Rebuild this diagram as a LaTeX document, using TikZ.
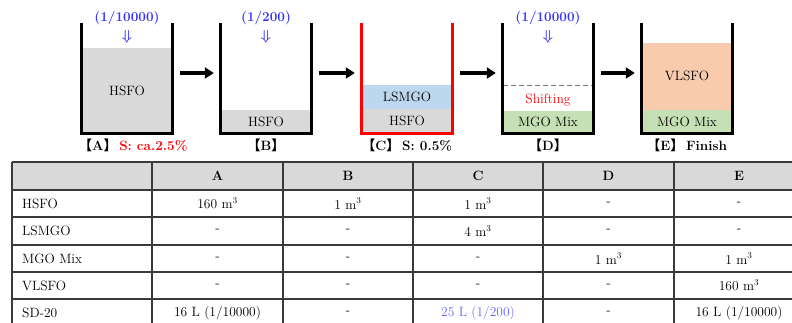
\documentclass[tikz,border=0pt]{standalone}
\usepackage{fontspec}
\newfontfamily\cjk{Noto Sans CJK JP}
\usepackage{xcolor}
\usepackage{tikz}
\usetikzlibrary{arrows.meta, positioning}
\definecolor{hsfogray}{HTML}{D9D9D9}
\definecolor{lsmgoblue}{HTML}{BDD7EE}
\definecolor{mgogreen}{HTML}{C5E0B4}
\definecolor{vlsfopeach}{HTML}{F8CBAD}
\definecolor{dosingblue}{HTML}{3333FF}
\definecolor{gridgray}{HTML}{3A3A3A}
\definecolor{headgray}{HTML}{D9D9D9}
\newcommand{\brL}{{\cjk 【}}
\newcommand{\brR}{{\cjk 】}}

\begin{document}
\begin{tikzpicture}[
  x=1pt, y=-1pt,
  node distance=4pt,
  every node/.style={font=\fontsize{13.5}{15}\selectfont, inner sep=0pt},
  tank/.style={minimum width=90pt, minimum height=110pt},
  wall/.style={line width=3pt, black},
  redwall/.style={wall, red},
  layer/.style={anchor=south, minimum width=90pt},
  dose/.style={font=\fontsize{13.5}{15}\selectfont\bfseries\mathversion{bold}, text=dosingblue},
  stage/.style={font=\fontsize{13.5}{15}\selectfont\bfseries},
  flow/.style={-{Triangle[length=9pt, width=11pt]}, line width=3.5pt, black,
               shorten <=8pt, shorten >=7pt},
  grid/.style={gridgray, line width=1.4pt},
  cell/.style={anchor=center}
]
\useasboundingbox (0,0) rectangle (792,322);

% tanks
\node[tank] (tA) at (127,78) {};
\node[tank] (tB) at (266,78) {};
\node[tank] (tC) at (407,78) {};
\node[tank] (tD) at (548,78) {};
\node[tank] (tE) at (687,78) {};

% contents
\node[layer, fill=hsfogray, minimum height=85pt] (hA) at (tA.south) {HSFO};
\node[layer, fill=hsfogray, minimum height=23pt] (hB) at (tB.south) {HSFO};
\node[layer, fill=hsfogray, minimum height=24pt] (hC) at (tC.south) {HSFO};
\node[layer, fill=lsmgoblue, minimum height=24pt, above=0pt of hC] (lC) {LSMGO};
\node[layer, fill=mgogreen, minimum height=22pt] (mD) at (tD.south) {MGO Mix};
\node[text=red] (sD) at (548,100) {Shifting};
\node[layer, fill=mgogreen, minimum height=23pt] (mE) at (tE.south) {MGO Mix};
\node[layer, fill=vlsfopeach, minimum height=67pt, above=0pt of mE] (vE) {VLSFO};
\draw[gray, line width=1pt, dash pattern=on 5pt off 3pt] ([yshift=-7pt]tD.west) -- ([yshift=-7pt]tD.east);

% walls
\draw[wall] (tA.north west) |- (tA.south east) -- (tA.north east);
\draw[wall] (tB.north west) |- (tB.south east) -- (tB.north east);
\draw[redwall] (tC.north west) |- (tC.south east) -- (tC.north east);
\draw[wall] (tD.north west) |- (tD.south east) -- (tD.north east);
\draw[wall] (tE.north west) |- (tE.south east) -- (tE.north east);

% dosing
\node[dose] (dA) at (127,18) {(1/10000)};
\node[dose] (aA) at (127,37) {$\Downarrow$};
\node[dose] (dB) at (266,18) {(1/200)};
\node[dose] (aB) at (266,37) {$\Downarrow$};
\node[dose] (dD) at (548,18) {(1/10000)};
\node[dose] (aD) at (548,37) {$\Downarrow$};

% stage labels
\node[stage] (cA) at (133,145) {\brL A\brR\,\textcolor{red}{S: ca.2.5\%}};
\node[stage] (cB) at (266,145) {\brL B\brR};
\node[stage] (cC) at (407,145) {\brL C\brR\,S: 0.5\%};
\node[stage] (cD) at (548,145) {\brL D\brR};
\node[stage] (cE) at (687,145) {\brL E\brR\,Finish};

\draw[flow] ([yshift=5pt]tA.east) -- ([yshift=5pt]tB.west);
\draw[flow] ([yshift=5pt]tB.east) -- ([yshift=5pt]tC.west);
\draw[flow] ([yshift=5pt]tC.east) -- ([yshift=5pt]tD.west);
\draw[flow] ([yshift=5pt]tD.east) -- ([yshift=5pt]tE.west);

% table
\begin{scope}
\clip (0,0) rectangle (792,322);
\fill[headgray] (12,162) rectangle (806,190);
\foreach \x in {12,152,283,413,543,674,806}
  \draw[grid] (\x,162) -- (\x,330);
\foreach \y in {162,190,217,245,272,299,327}
  \draw[grid] (12,\y) -- (806,\y);
\foreach \c/\x in {A/217.5, B/348, C/478, D/608.5, E/739}
  \node[stage] (hd\c) at (\x,176) {\c};
\foreach \r/\y/\name/\va/\vb/\vc/\vd/\ve in {
    1/203.5/HSFO/{160 m$^3$}/{1 m$^3$}/{1 m$^3$}/-/-,
    2/231/LSMGO/-/-/{4 m$^3$}/-/-,
    3/258.5/MGO Mix/-/-/-/{1 m$^3$}/{1 m$^3$},
    4/285.5/VLSFO/-/-/-/-/{160 m$^3$},
    5/313/SD-20/{16 L (1/10000)}/-/{\textcolor{dosingblue!75}{25 L (1/200)}}/-/{16 L (1/10000)}} {
  \node[anchor=west] (n\r) at (22,\y) {\name};
  \node[cell] (a\r) at (217.5,\y) {\va};
  \node[cell] (b\r) at (348,\y) {\vb};
  \node[cell] (c\r) at (478,\y) {\vc};
  \node[cell] (d\r) at (608.5,\y) {\vd};
  \node[cell] (e\r) at (739,\y) {\ve};
}
\end{scope}
\end{tikzpicture}
\end{document}
